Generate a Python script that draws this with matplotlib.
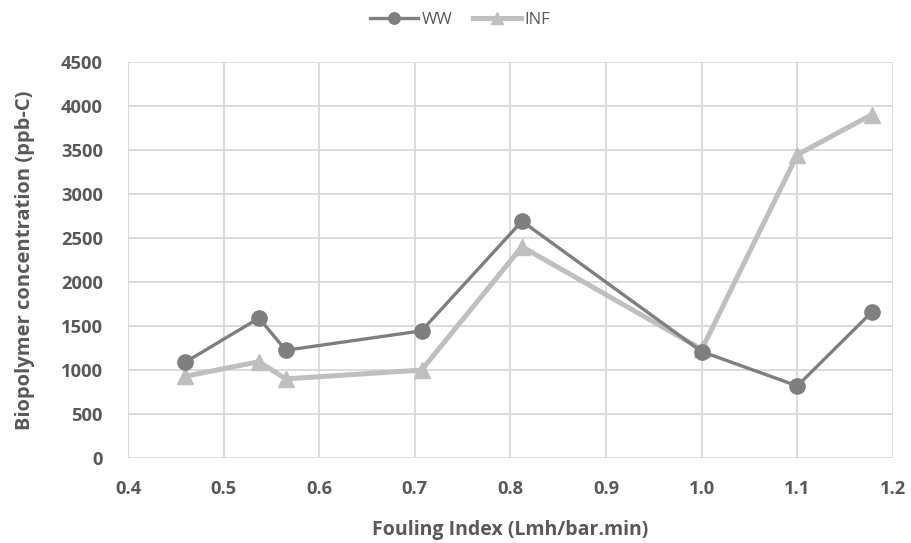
import matplotlib
matplotlib.use("Agg")
import matplotlib.pyplot as plt

ww_x = [0.460, 0.537, 0.565, 0.707, 0.812, 1.000, 1.100, 1.178]
ww_y = [1090, 1590, 1225, 1445, 2690, 1210, 820, 1660]
inf_x = [0.460, 0.537, 0.565, 0.707, 0.812, 1.000, 1.100, 1.178]
inf_y = [930, 1095, 900, 1000, 2400, 1235, 3445, 3900]
x_ticks = [0.4, 0.5, 0.6, 0.7, 0.8, 0.9, 1.0, 1.1, 1.2]
x_tick_labels = ["0.4", "0.5", "0.6", "0.7", "0.8", "0.9", "1.0", "1.1", "1.2"]
y_ticks = [0, 500, 1000, 1500, 2000, 2500, 3000, 3500, 4000, 4500]

plt.rcParams['font.family'] = ['Open Sans', 'DejaVu Sans']
fig = plt.figure(figsize=(9.11, 5.43), dpi=100)
ax = fig.add_axes([0.1405, 0.1562, 0.8397, 0.7302])

ax.plot(ww_x, ww_y, color='#7f7f7f', lw=2.4, marker='o', ms=11, label='WW', zorder=4)
ax.plot(inf_x, inf_y, color='#bfbfbf', lw=3.6, marker='^', ms=11, label='INF', zorder=3)

ax.set_xlim(0.4, 1.2)
ax.set_ylim(0, 4500)
ax.set_xticks(x_ticks)
ax.set_xticklabels(x_tick_labels)
ax.set_yticks(y_ticks)
ax.grid(True, color='#d9d9d9', lw=1.3)
ax.set_axisbelow(True)
for s in ax.spines.values():
    s.set_visible(False)
ax.tick_params(length=0, labelsize=13.2, labelcolor='#595959')
for lab in ax.get_xticklabels() + ax.get_yticklabels():
    lab.set_fontweight('bold')
ax.tick_params(axis='x', pad=16)
ax.tick_params(axis='y', pad=18)

ax.set_xlabel('Fouling Index (Lmh/bar.min)', fontsize=14, fontweight='bold', color='#595959')
ax.set_ylabel('Biopolymer concentration (ppb-C)', fontsize=14.5, fontweight='bold', color='#595959')
ax.yaxis.set_label_coords(-0.121, 0.5)
ax.xaxis.set_label_coords(0.5, -0.155)

fig.legend(loc='upper center', bbox_to_anchor=(0.505, 1.005), ncol=2, frameon=False,
           fontsize=12, labelcolor='#595959', handlelength=2.9, columnspacing=1.2,
           handletextpad=0.2, markerscale=0.75)

fig.savefig('out.png', dpi=100)
